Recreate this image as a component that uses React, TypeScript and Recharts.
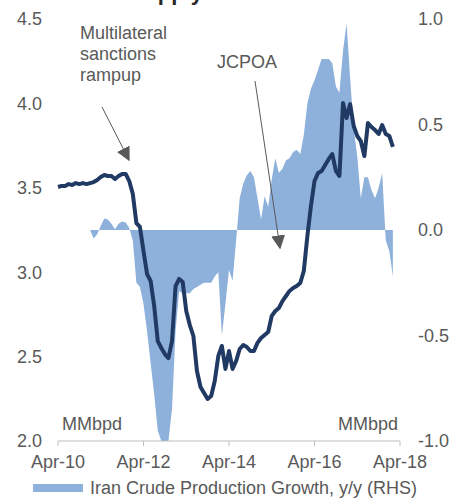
import {
  ComposedChart,
  Area,
  Line,
  XAxis,
  YAxis,
  Legend,
} from "recharts";

// Iran crude production, MMbpd (LHS), monthly from Apr-10
const productionValues = [
  3.505, 3.511, 3.511, 3.522, 3.517, 3.528, 3.522, 3.528, 3.522, 3.528,
  3.534, 3.546, 3.564, 3.576, 3.57, 3.57, 3.552, 3.57, 3.582, 3.582,
  3.54, 3.463, 3.291, 3.268, 3.126, 2.989, 2.948, 2.8, 2.592, 2.551,
  2.515, 2.491, 2.592, 2.918, 2.96, 2.942, 2.77, 2.687, 2.622, 2.415,
  2.32, 2.284, 2.249, 2.267, 2.355, 2.504, 2.563, 2.427, 2.533, 2.427,
  2.474, 2.545, 2.569, 2.557, 2.533, 2.533, 2.581, 2.61, 2.628, 2.646,
  2.741, 2.77, 2.788, 2.829, 2.859, 2.889, 2.906, 2.918, 2.936, 3.007,
  3.214, 3.392, 3.54, 3.588, 3.6, 3.635, 3.671, 3.7, 3.6, 3.57,
  4.002, 3.913, 3.996, 3.866, 3.807, 3.777, 3.688, 3.884, 3.86, 3.842,
  3.819, 3.872, 3.819, 3.807, 3.742,
];

// Iran crude production growth, y/y MMbpd (RHS)
const growthValues: (number | null)[] = [
  null, null, null, null, null, null, null, null, null, 0,
  -0.04, -0.02, 0.02, 0.055, 0.05, 0.03, 0.003, 0.03, 0.04, 0.035,
  0.01, -0.05, -0.25, -0.27, -0.35, -0.48, -0.63, -0.78, -0.95, -1.0,
  -1.0, -1.0, -0.85, -0.48, -0.29, -0.3, -0.3, -0.3, -0.28, -0.27,
  -0.26, -0.25, -0.25, -0.25, -0.22, -0.2, -0.5, -0.35, -0.19, -0.24,
  -0.05, 0.15, 0.22, 0.26, 0.28, 0.25, 0.15, 0.05, 0.16, 0.11,
  0.24, 0.34, 0.27, 0.29, 0.33, 0.34, 0.37, 0.38, 0.36, 0.45,
  0.6, 0.67, 0.71, 0.76, 0.81, 0.81, 0.81, 0.79, 0.68, 0.65,
  0.85, 0.98, 0.72, 0.48, 0.35, 0.15, 0.25, 0.25, 0.19, 0.15,
  0.2, 0.27, -0.05, -0.1, -0.22,
];

const xTicks = [0, 24, 48, 72, 96];
const xTickLabels = ["Apr-10", "Apr-12", "Apr-14", "Apr-16", "Apr-18"];
const leftTicks = [2.0, 2.5, 3.0, 3.5, 4.0, 4.5];
const rightTicks = [-1.0, -0.5, 0.0, 0.5, 1.0];

const data = productionValues.map((v, i) => ({
  idx: i,
  production: v,
  growth: growthValues[i],
}));

const FONT = '"Liberation Sans", Arial, sans-serif';
const GRAY = "#595959";
const AREA_BLUE = "#8eb1dc";
const NAVY = "#213a63";

const renderLegend = () => (
  <div
    style={{
      display: "flex",
      alignItems: "center",
      height: 24,
      paddingLeft: 33,
      fontFamily: FONT,
      fontSize: 18,
      color: GRAY,
    }}
  >
    <span
      style={{
        display: "inline-block",
        width: 50,
        height: 8,
        background: AREA_BLUE,
        marginRight: 7,
      }}
    />
    Iran Crude Production Growth, y/y (RHS)
  </div>
);

export default function App() {
  const tickStyle = { fill: GRAY, fontSize: 18, fontFamily: FONT };

  return (
    <div style={{ position: "absolute", left: 0, top: 0, width: 453, height: 500 }}>
      <ComposedChart
        width={453}
        height={500}
        data={data}
        margin={{ top: 19, right: 0, left: 0, bottom: 0 }}
      >
        <XAxis
          dataKey="idx"
          type="number"
          domain={[0, 96]}
          ticks={xTicks}
          tickFormatter={(v) => xTickLabels[xTicks.indexOf(v)] ?? ""}
          stroke="#bfbfbf"
          tick={tickStyle}
          tickSize={5}
          tickMargin={9}
          height={35}
        />
        <YAxis
          yAxisId="left"
          orientation="left"
          domain={[2.0, 4.5]}
          ticks={leftTicks}
          tickFormatter={(v) => Number(v).toFixed(1)}
          axisLine={false}
          tickLine={false}
          tickSize={8}
          tickMargin={8}
          tick={tickStyle}
          width={58}
        />
        <YAxis
          yAxisId="right"
          orientation="right"
          domain={[-1, 1]}
          ticks={rightTicks}
          tickFormatter={(v) => Number(v).toFixed(1)}
          axisLine={false}
          tickLine={false}
          tickSize={10}
          tickMargin={8}
          tick={{ ...tickStyle, textAnchor: "start" }}
          width={53}
        />
        <Legend verticalAlign="bottom" height={24} content={renderLegend} />
        <Area
          yAxisId="right"
          type="linear"
          dataKey="growth"
          baseValue={0}
          stroke="none"
          fill={AREA_BLUE}
          fillOpacity={1}
          isAnimationActive={false}
        />
        <Line
          yAxisId="left"
          type="linear"
          dataKey="production"
          stroke={NAVY}
          strokeWidth={4}
          strokeLinejoin="round"
          dot={false}
          activeDot={false}
          isAnimationActive={false}
        />
      </ComposedChart>

      {/* title (cut off at top) and annotations */}
      <svg
        width={453}
        height={500}
        style={{ position: "absolute", left: 0, top: 0, pointerEvents: "none" }}
        fontFamily={FONT}
      >
        <defs>
          <marker
            id="arrowHead"
            viewBox="0 0 10 10"
            refX="9"
            refY="5"
            markerWidth="14"
            markerHeight="14"
            markerUnits="userSpaceOnUse"
            orient="auto"
          >
            <path d="M0,0 L10,5 L0,10 z" fill={GRAY} />
          </marker>
        </defs>
        <text x={203} y={0} textAnchor="end" fontSize={22} fontWeight="bold" fill="#262626">
          Iran Crude Supply
        </text>
        <text fill={GRAY} fontSize={18}>
          <tspan x={80} y={39}>Multilateral</tspan>
          <tspan x={80} y={60}>sanctions</tspan>
          <tspan x={80} y={81}>rampup</tspan>
        </text>
        <line x1={102} y1={107} x2={129} y2={160} stroke={GRAY} strokeWidth={1} markerEnd="url(#arrowHead)" />
        <text x={217} y={68} fill={GRAY} fontSize={18}>JCPOA</text>
        <line x1={255} y1={81} x2={280} y2={248} stroke={GRAY} strokeWidth={1} markerEnd="url(#arrowHead)" />
        <text x={62} y={430} fill={GRAY} fontSize={18}>MMbpd</text>
        <text x={398} y={430} textAnchor="end" fill={GRAY} fontSize={18}>MMbpd</text>
      </svg>
    </div>
  );
}
